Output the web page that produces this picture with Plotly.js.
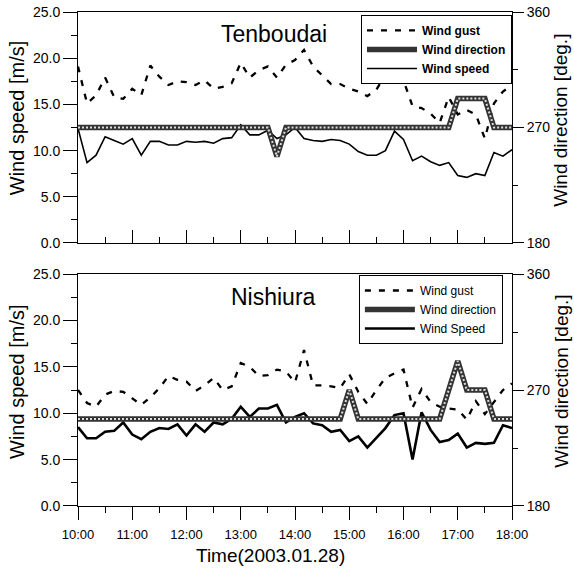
<!DOCTYPE html>
<html><head><meta charset="utf-8">
<script src="https://cdn.plot.ly/plotly-3.0.1.min.js"></script>
<style>html,body{margin:0;padding:0;background:#fff}#chart{width:574px;height:572px}</style>
</head><body><div id="chart"></div>
<script>
const times = ['10:00','10:10','10:20','10:30','10:40','10:50','11:00','11:10','11:20','11:30','11:40','11:50',
'12:00','12:10','12:20','12:30','12:40','12:50','13:00','13:10','13:20','13:30','13:40','13:50',
'14:00','14:10','14:20','14:30','14:40','14:50','15:00','15:10','15:20','15:30','15:40','15:50',
'16:00','16:10','16:20','16:30','16:40','16:50','17:00','17:10','17:20','17:30','17:40','17:50','18:00'];

const tenSpeed = [12.4,8.7,9.5,11.5,11.1,10.7,11.3,9.5,11.0,11.0,
10.6,10.6,11.0,10.9,11.0,10.8,11.3,11.4,12.8,11.7,
11.7,12.2,11.3,11.7,12.5,11.3,11.1,11.0,11.2,11.1,
10.7,9.9,9.5,9.5,10.0,12.1,11.2,8.9,9.4,8.8,
8.4,8.7,7.3,7.1,7.5,7.3,9.8,9.4,10.1];
const tenGust = [19.1,15.1,16.0,17.9,15.8,15.6,16.7,16.0,19.2,18.0,
17.1,17.5,17.4,17.1,17.6,16.7,16.9,17.3,19.5,17.9,
18.7,19.1,17.9,19.3,19.8,20.9,19.1,18.2,17.2,17.2,
16.7,16.4,15.9,16.6,18.2,18.0,17.6,14.8,14.6,14.0,
13.0,15.8,13.9,14.4,13.9,11.3,15.1,16.4,17.1];
const tenDir = [270,270,270,270,270,270,270,270,270,270,270,270,270,270,270,270,270,270,270,270,270,270,
247.5,
270,270,270,270,270,270,270,270,270,270,270,270,270,270,270,270,270,270,270,
292.5,292.5,292.5,292.5,
270,270,270];

const nisSpeed = [8.5,7.3,7.3,8.0,8.1,9.0,7.7,7.2,8.0,8.4,
8.3,8.8,7.6,8.8,8.0,9.0,8.8,9.4,10.7,9.6,
10.5,10.5,10.9,9.0,9.6,10.0,8.9,8.7,8.0,8.2,
7.0,7.5,6.3,7.3,8.4,9.8,10.0,5.0,10.1,8.2,
6.9,7.1,7.8,6.3,6.8,6.7,6.8,8.7,8.4];
const nisGust = [12.5,11.1,10.7,12.0,12.4,12.3,11.6,10.9,11.7,12.7,
14.0,13.6,13.4,12.4,13.0,13.8,12.5,12.9,15.4,15.0,
14.0,14.1,14.7,14.5,13.3,16.8,13.0,13.0,12.9,12.7,
14.2,12.3,11.0,12.5,13.8,14.3,14.7,10.6,12.6,11.2,
10.7,10.5,10.4,9.3,11.3,9.9,11.2,12.5,13.2];
const nisDir = [247.5,247.5,247.5,247.5,247.5,247.5,247.5,247.5,247.5,247.5,
247.5,247.5,247.5,247.5,247.5,247.5,247.5,247.5,247.5,247.5,
247.5,247.5,247.5,247.5,247.5,247.5,247.5,247.5,247.5,247.5,
270,
247.5,247.5,247.5,247.5,247.5,247.5,247.5,247.5,247.5,247.5,
270,292.5,270,270,270,
247.5,247.5,247.5];

const hourTicks = ['10:00','11:00','12:00','13:00','14:00','15:00','16:00','17:00','18:00'];
const halfTicks = ['10:30','11:30','12:30','13:30','14:30','15:30','16:30','17:30'];
const speedTicks = [0,5,10,15,20,25];
const speedTickText = ['0.0','5.0','10.0','15.0','20.0','25.0'];
const speedMinor = [2.5,7.5,12.5,17.5,22.5];
const dirTicks = [180,270,360];
const dirMinor = [225,315];
const panelNames = ['Tenboudai','Nishiura'];
const legendNames = [['Wind gust','Wind direction','Wind speed'],['Wind gust','Wind direction','Wind Speed']];

const day = '2003-01-28 ';
const X = times.map(t => day + t);
const FONT = 'Liberation Sans, Arial, sans-serif';

function panelTraces(gust, dir, speed, xa, ya, ya2, leg, names, spW) {
  return [
    {x: X, y: gust, xaxis: xa, yaxis: ya, mode: 'lines', name: names[0], legend: leg, legendrank: 1,
     line: {color: '#000', width: 2.3, dash: '6px,8px'}},
    {x: X, y: speed, xaxis: xa, yaxis: ya, mode: 'lines', name: names[2], legend: leg, legendrank: 3,
     line: {color: '#000', width: spW}},
    {x: X, y: dir, xaxis: xa, yaxis: ya2, mode: 'lines', name: names[1], legend: leg, legendrank: 2,
     line: {color: '#333', width: 5.5}},
    {x: X, y: dir, xaxis: xa, yaxis: ya2, mode: 'lines', showlegend: false, hoverinfo: 'skip',
     line: {color: '#dcdcdc', width: 2, dash: '2px,2px'}}
  ];
}

const data = [].concat(
  panelTraces(tenGust, tenDir, tenSpeed, 'x', 'y', 'y2', 'legend', legendNames[0], 1.6),
  panelTraces(nisGust, nisDir, nisSpeed, 'x2', 'y3', 'y4', 'legend2', legendNames[1], 2.6)
);

const tickFont = {family: FONT, size: 14, color: '#000'};
function xAxis(anchor, showLabels, tickDir) {
  return {
    type: 'date', anchor: anchor, domain: [0, 1],
    range: [day + '10:00', day + '18:00'],
    tickmode: 'array', tickvals: hourTicks.map(t => day + t), ticktext: hourTicks,
    showticklabels: showLabels, ticks: tickDir, ticklen: 13, tickwidth: 1, tickcolor: '#000',
    ticklabelstandoff: 3,
    minor: {tickmode: 'array', tickvals: halfTicks.map(t => day + t), ticks: tickDir, ticklen: 6, tickwidth: 1, tickcolor: '#000'},
    showline: true, linecolor: '#000', linewidth: 1, mirror: true,
    showgrid: false, zeroline: false, tickfont: {family: FONT, size: 13, color: '#000'}
  };
}
function ySpeed(anchor, domain) {
  return {
    anchor: anchor, domain: domain, range: [0, 25],
    tickmode: 'array', tickvals: speedTicks, ticktext: speedTickText,
    ticks: 'outside', ticklen: 14, tickwidth: 1, tickcolor: '#000',
    minor: {tickmode: 'array', tickvals: speedMinor, ticks: 'outside', ticklen: 6, tickwidth: 1, tickcolor: '#000'},
    showline: true, linecolor: '#000', linewidth: 1,
    showgrid: false, zeroline: false, tickfont: tickFont
  };
}
function yDir(anchor, overlay) {
  return {
    anchor: anchor, overlaying: overlay, side: 'right', range: [180, 360],
    tickmode: 'array', tickvals: dirTicks, ticktext: dirTicks.map(String),
    ticks: 'outside', ticklen: 11, tickwidth: 1, tickcolor: '#000',
    minor: {tickmode: 'array', tickvals: dirMinor, ticks: 'outside', ticklen: 5, tickwidth: 1, tickcolor: '#000'},
    showline: true, linecolor: '#000', linewidth: 1,
    showgrid: false, zeroline: false, tickfont: tickFont
  };
}

function legendBox(x, y, bold) {
  return {
    x: x, y: y, xanchor: 'right', yanchor: 'top', xref: 'paper', yref: 'paper',
    bgcolor: '#fff', bordercolor: '#000', borderwidth: 1,
    font: {family: FONT, size: 12, color: '#000', weight: bold ? 'bold' : 'normal'},
    itemwidth: 50, tracegroupgap: 0
  };
}

function ann(text, x, y, size, angle) {
  return {text: text, x: x, y: y, xref: 'paper', yref: 'paper', showarrow: false,
    xanchor: 'center', yanchor: 'middle', textangle: angle || 0,
    font: {family: FONT, size: size, color: '#000'}};
}

const layout = {
  width: 574, height: 572,
  margin: {l: 78, r: 62, t: 12, b: 66},
  paper_bgcolor: '#fff', plot_bgcolor: '#fff',
  showlegend: true,
  xaxis: xAxis('y', false, 'inside'),
  yaxis: ySpeed('x', [0.5324, 1]),
  yaxis2: yDir('x', 'y'),
  xaxis2: xAxis('y3', true, 'outside'),
  yaxis3: ySpeed('x2', [0, 0.4696]),
  yaxis4: yDir('x2', 'y3'),
  legend: legendBox(1, 0.994, true),
  legend2: legendBox(0.979, 0.4676, false),
  annotations: [
    ann(panelNames[0], 0.4516, 0.9555, 23),
    ann(panelNames[1], 0.4516, 0.423, 23),
    ann('Wind speed [m/s]', -0.1406, 0.787, 20, -90),
    ann('Wind speed [m/s]', -0.1406, 0.253, 20, -90),
    ann('Wind direction [deg.]', 1.112, 0.781, 19, -90),
    ann('Wind direction [deg.]', 1.112, 0.253, 19, -90),
    ann('Time(2003.01.28)', 0.4447, -0.101, 19)
  ]
};

Plotly.newPlot('chart', data, layout, {displayModeBar: false, staticPlot: true});
</script>
</body></html>
